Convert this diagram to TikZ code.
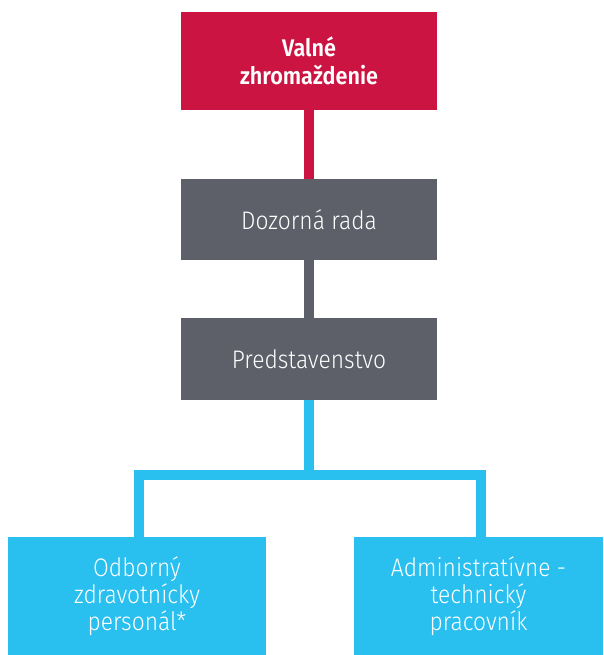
\documentclass[tikz,border=0pt]{standalone}
\usepackage{fontspec}
\setmainfont[FakeStretch=0.9,UprightFont={* Light},BoldFont={* SemiBold}]{Fira Sans}
\usetikzlibrary{positioning}
\definecolor{vzred}{HTML}{CC1442}
\definecolor{drgray}{HTML}{5D6068}
\definecolor{ozpblue}{HTML}{29BFEF}

\begin{document}
\begin{tikzpicture}[x=0.75pt,y=-0.75pt]
	\tikzset{box/.style={draw=none,text=white,align=center,inner sep=0pt,
			font=\fontsize{19}{20.3}\selectfont},
		link/.style={line width=7.5pt}}
	
	% Page size
	\useasboundingbox (0,0) rectangle (603,655);
	
	% Boxes
	\node[box,fill=vzred,minimum width=192pt,minimum height=73.5pt,font=\fontsize{18}{21}\selectfont\bfseries] (vz) at (309,61) {Valné\\zhromaždenie};
	\node[box,fill=drgray,minimum width=192pt,minimum height=60.75pt] (dr) at (309,219.5) {Dozorná rada};
	\node[box,fill=drgray,minimum width=192pt,minimum height=61.5pt] (pr) at (309,359) {Predstavenstvo};
	\node[box,fill=ozpblue,minimum width=193.5pt,minimum height=88.5pt] (ozp) at (137,596) {Odborný\\zdravotnícky\\personál*};
	\node[box,fill=ozpblue,minimum width=186.75pt,minimum height=88.5pt] (atp) at (478.5,596) {Administratívne -\\technický\\pracovník};
	
	% Connectors
	\draw[link,vzred] (vz) -- (dr);
	\draw[link,drgray] (dr) -- (pr);
	
	\coordinate (barl) at (138.5,474.5);
	\coordinate (barr) at (480.5,474.5);
	\draw[link,ozpblue] (pr) -- (pr.south |- barl);
	\draw[link,ozpblue] (barl |- ozp.north) -- (barl) -- (barr) -- (barr |- atp.north);
	
\end{tikzpicture}
\end{document}
